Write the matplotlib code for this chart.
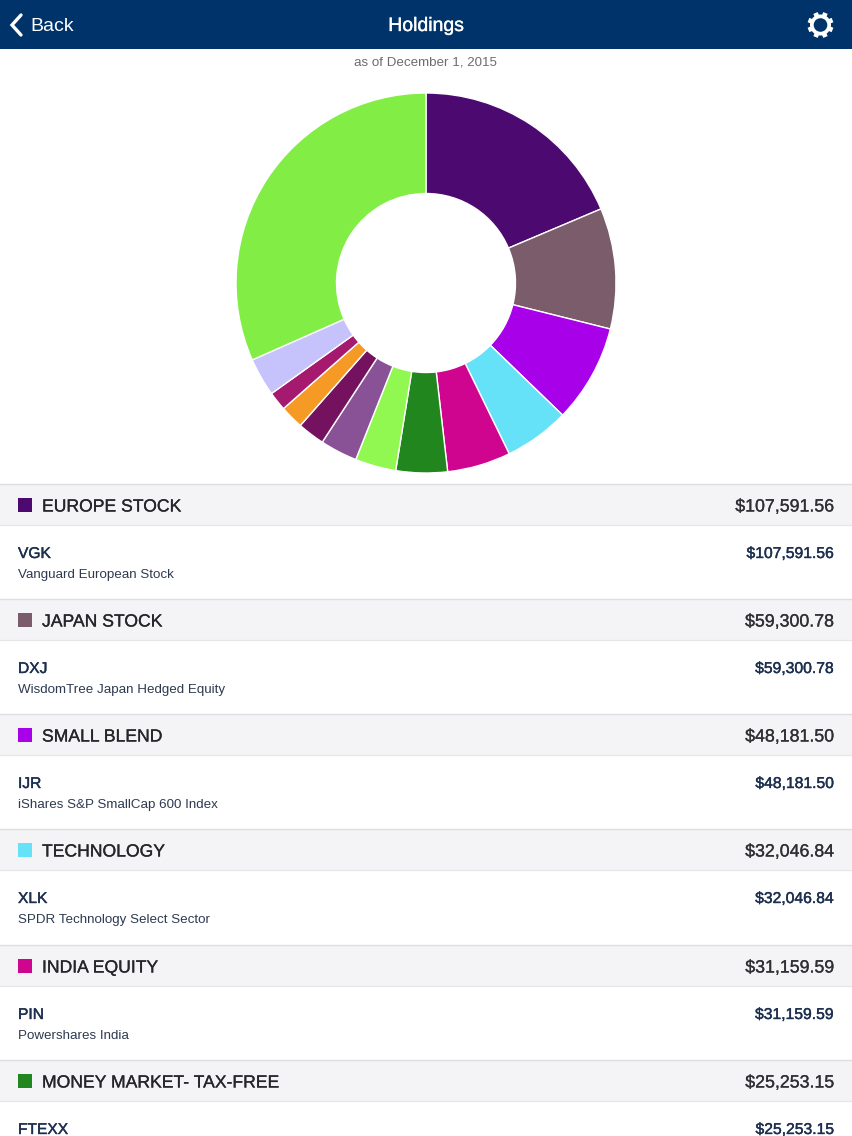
import numpy as np
import matplotlib
matplotlib.use("Agg")
import matplotlib.pyplot as plt
import matplotlib.patheffects as pe
from matplotlib.patches import Rectangle, Circle

plt.rcParams['font.family'] = ['Liberation Sans', 'DejaVu Sans']

slice_values = [107591.56, 59300.78, 48181.50, 32046.84, 31159.59, 25253.15,
                20070, 18300, 13330, 11560, 9310, 18785, 182700]
slice_colors = ['#4c0a70', '#7a5c6a', '#a800e8', '#66e2f8', '#d0058f', '#22861e',
                '#90f850', '#8a5296', '#75125f', '#f59a25', '#a5196f', '#c5c2fc', '#82ee45']

categories = ['EUROPE STOCK', 'JAPAN STOCK', 'SMALL BLEND', 'TECHNOLOGY', 'INDIA EQUITY', 'MONEY MARKET- TAX-FREE']
amounts = ['$107,591.56', '$59,300.78', '$48,181.50', '$32,046.84', '$31,159.59', '$25,253.15']
tickers = ['VGK', 'DXJ', 'IJR', 'XLK', 'PIN', 'FTEXX']
fund_names = ['Vanguard European Stock', 'WisdomTree Japan Hedged Equity', 'iShares S&P SmallCap 600 Index',
              'SPDR Technology Select Sector', 'Powershares India', '']
row_tops = [484, 599, 714, 829, 945, 1060]

W, H = 852, 1136
fig = plt.figure(figsize=(W / 100, H / 100), dpi=100, facecolor='white')
ui = fig.add_axes([0, 0, 1, 1])
ui.set_xlim(0, W)
ui.set_ylim(H, 0)
ui.axis('off')


def medium(color, w=0.2):
    return [pe.withStroke(linewidth=w, foreground=color)]


NAVY = '#00336a'
ui.add_patch(Rectangle((0, 0), W, 49, color=NAVY, lw=0))
ui.plot([21, 12, 21], [15, 25, 35], color='white', lw=2.4, solid_capstyle='round', solid_joinstyle='miter')
ui.text(30, 31, 'Back', color='white', fontsize=14.0, va='baseline', ha='left')
ui.text(426.5, 31, 'Holdings', color='white', fontsize=14.0, va='baseline', ha='center',
        path_effects=medium('white', 0.25))
# settings gear
gx, gy = 820.5, 25
for a in np.deg2rad(np.arange(0, 360, 45) + 22.5):
    ui.plot([gx + 8 * np.cos(a), gx + 13 * np.cos(a)], [gy + 8 * np.sin(a), gy + 13 * np.sin(a)],
            color='white', lw=3.4, solid_capstyle='butt')
ui.add_patch(Circle((gx, gy), 10.5, color='white', lw=0))
ui.add_patch(Circle((gx, gy), 6.8, color=NAVY, lw=0))
ui.text(426, 65.5, 'as of December 1, 2015', color='#6c6c6c', fontsize=9.6, va='baseline', ha='center')

for i, top in enumerate(row_tops):
    ui.add_patch(Rectangle((0, top), W, 41, color='#f4f3f5', lw=0))
    ui.plot([0, W], [top, top], color='#dedee0', lw=1.0)
    ui.plot([0, W], [top + 41, top + 41], color='#e6e6e8', lw=0.9)
    ui.add_patch(Rectangle((18, top + 14), 13.5, 14, color=slice_colors[i], lw=0))
    ui.text(42, top + 27.5, categories[i], color='#26262a', fontsize=12.65, va='baseline', ha='left',
            path_effects=medium('#26262a'))
    ui.text(834, top + 27.5, amounts[i], color='#303034', fontsize=12.8, va='baseline', ha='right',
            path_effects=medium('#303034'))
    ui.text(18, top + 74, tickers[i], color='#1c2f4e', fontsize=11.2, va='baseline', ha='left',
            path_effects=medium('#1c2f4e', 0.3))
    ui.text(834, top + 74, amounts[i], color='#1c2f4e', fontsize=11.3, va='baseline', ha='right',
            path_effects=medium('#1c2f4e', 0.3))
    ui.text(18, top + 94, fund_names[i], color='#2d3a50', fontsize=9.6, va='baseline', ha='left')

R = 190
cx, cy = 426, 283
pie_ax = fig.add_axes([(cx - R) / W, 1 - (cy + R) / H, 2 * R / W, 2 * R / H])
pie_ax.pie(slice_values, colors=slice_colors, startangle=90, counterclock=False, radius=1,
           wedgeprops=dict(width=100.5 / R, edgecolor='white', linewidth=1.0))
pie_ax.set_xlim(-1, 1)
pie_ax.set_ylim(-1, 1)

fig.savefig('out.png', dpi=100)
